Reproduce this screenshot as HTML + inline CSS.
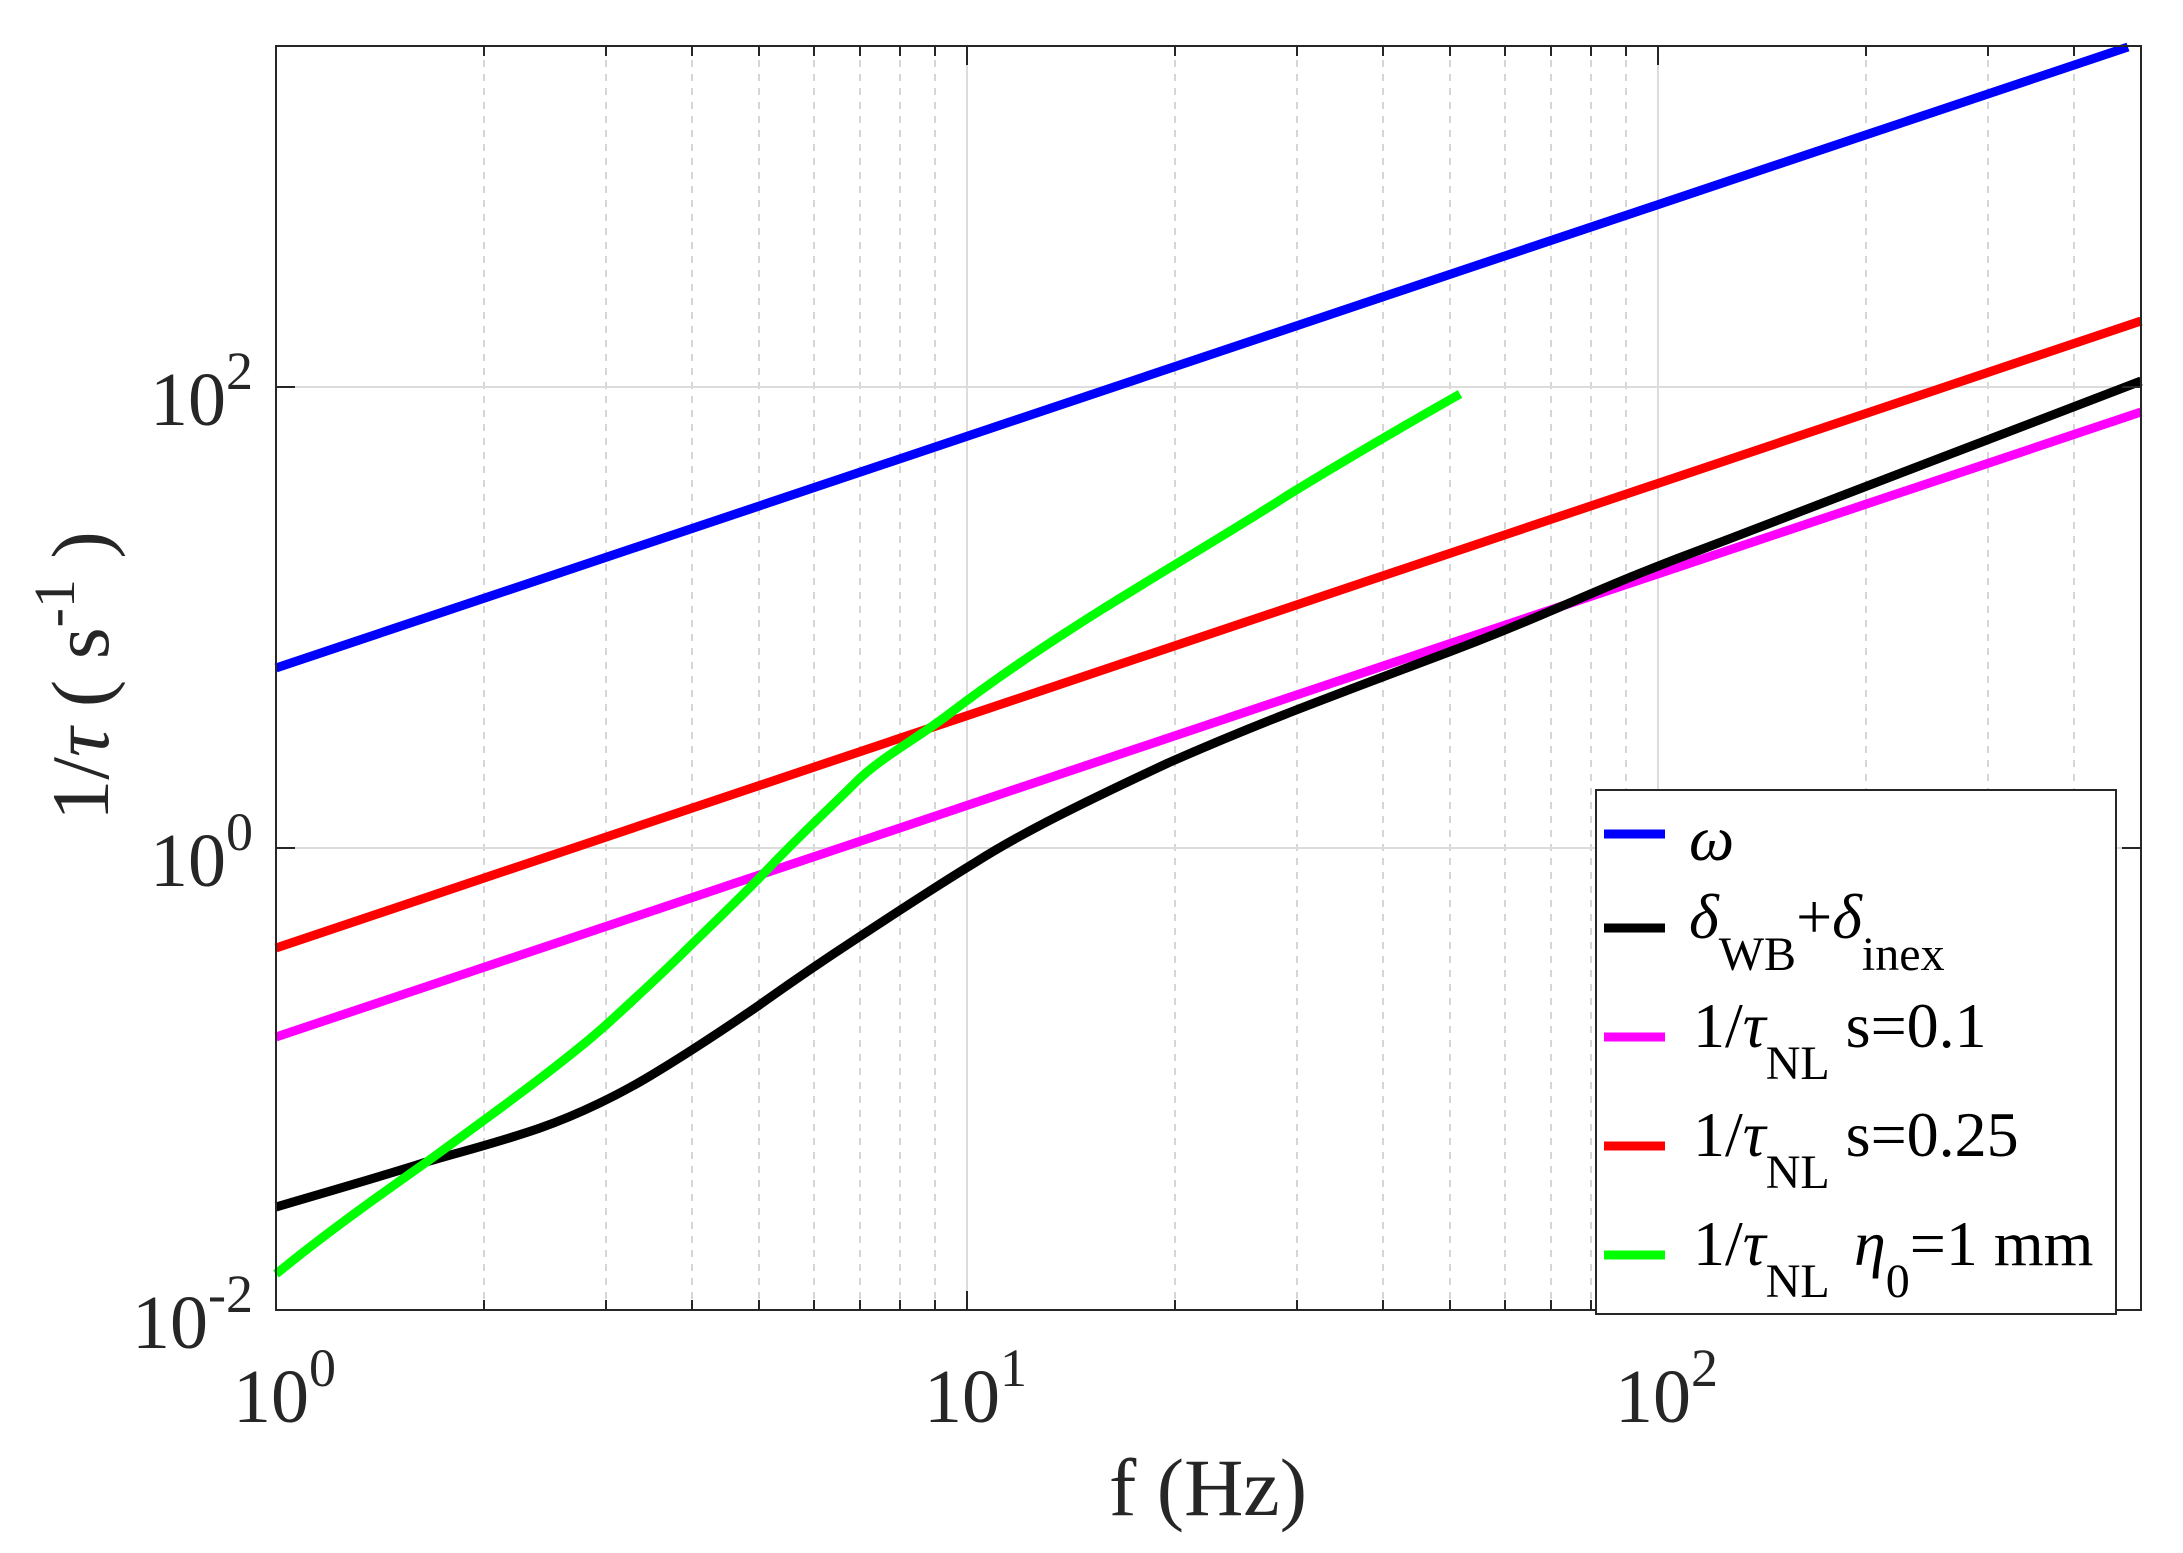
<!DOCTYPE html>
<html><head><meta charset="utf-8"><style>html,body{margin:0;padding:0;background:#fff}svg{display:block}</style></head>
<body>
<svg width="2183" height="1553" viewBox="0 0 2183 1553" xmlns="http://www.w3.org/2000/svg" font-family="Liberation Serif, serif" fill="#262626">
<rect x="0" y="0" width="2183" height="1553" fill="#fff"/>
<g stroke="#c8c8c8" stroke-width="1.5" stroke-dasharray="7,7">
<line x1="484" y1="46" x2="484" y2="1310"/><line x1="606" y1="46" x2="606" y2="1310"/><line x1="692" y1="46" x2="692" y2="1310"/><line x1="759" y1="46" x2="759" y2="1310"/><line x1="814" y1="46" x2="814" y2="1310"/><line x1="860" y1="46" x2="860" y2="1310"/><line x1="900" y1="46" x2="900" y2="1310"/><line x1="935" y1="46" x2="935" y2="1310"/>
<line x1="1175" y1="46" x2="1175" y2="1310"/><line x1="1297" y1="46" x2="1297" y2="1310"/><line x1="1383" y1="46" x2="1383" y2="1310"/><line x1="1450" y1="46" x2="1450" y2="1310"/><line x1="1505" y1="46" x2="1505" y2="1310"/><line x1="1551" y1="46" x2="1551" y2="1310"/><line x1="1591" y1="46" x2="1591" y2="1310"/><line x1="1626" y1="46" x2="1626" y2="1310"/>
<line x1="1866" y1="46" x2="1866" y2="1310"/><line x1="1988" y1="46" x2="1988" y2="1310"/><line x1="2074" y1="46" x2="2074" y2="1310"/>
</g>
<g stroke="#dcdcdc" stroke-width="2">
<line x1="967" y1="46" x2="967" y2="1310"/><line x1="1658" y1="46" x2="1658" y2="1310"/>
<line x1="276" y1="387" x2="2141" y2="387"/><line x1="276" y1="848" x2="2141" y2="848"/>
</g>
<g fill="none" stroke-width="9" stroke-linejoin="round">
<line x1="276" y1="668" x2="2128" y2="47" stroke="#0000ff"/>
<line x1="276" y1="948" x2="2141" y2="321" stroke="#ff0000"/>
<line x1="276" y1="1037" x2="2141" y2="412" stroke="#ff00ff"/>
<path stroke="#000" d="M276,1207 C330,1191 386,1175 423,1163 C460,1152 500,1142 540,1128 C580,1114 620,1094 650,1076 C690,1052 720,1032 758,1006 C800,976 830,956 856,939 C900,910 940,884 976,862 C1020,834 1080,804 1168,763 C1250,727 1300,708 1449,652 C1550,614 1600,587 1700,550 C1850,493 2000,434 2141,381"/>
<path stroke="#00ff00" d="M276,1274 C330,1230 380,1195 428,1161 C480,1123 560,1066 606,1025 C640,994 670,966 691,945 C720,917 745,893 767,870 C800,835 830,808 856,782 C880,758 915,740 949,714 C1000,675 1050,642 1101,610 C1180,561 1250,520 1288,495 C1350,457 1400,428 1460,394"/>
</g>
<rect x="276" y="46" width="1865" height="1264" fill="none" stroke="#262626" stroke-width="2"/>
<g stroke="#262626" stroke-width="2">
<line x1="967" y1="1310" x2="967" y2="1291"/><line x1="1658" y1="1310" x2="1658" y2="1291"/>
<line x1="967" y1="46" x2="967" y2="65"/><line x1="1658" y1="46" x2="1658" y2="65"/>
<line x1="276" y1="387" x2="295" y2="387"/><line x1="276" y1="848" x2="295" y2="848"/>
<line x1="2141" y1="387" x2="2122" y2="387"/><line x1="2141" y1="848" x2="2122" y2="848"/>
<line x1="484" y1="1310" x2="484" y2="1300"/><line x1="606" y1="1310" x2="606" y2="1300"/><line x1="692" y1="1310" x2="692" y2="1300"/><line x1="759" y1="1310" x2="759" y2="1300"/><line x1="814" y1="1310" x2="814" y2="1300"/><line x1="860" y1="1310" x2="860" y2="1300"/><line x1="900" y1="1310" x2="900" y2="1300"/><line x1="935" y1="1310" x2="935" y2="1300"/>
<line x1="1175" y1="1310" x2="1175" y2="1300"/><line x1="1297" y1="1310" x2="1297" y2="1300"/><line x1="1383" y1="1310" x2="1383" y2="1300"/><line x1="1450" y1="1310" x2="1450" y2="1300"/><line x1="1505" y1="1310" x2="1505" y2="1300"/><line x1="1551" y1="1310" x2="1551" y2="1300"/><line x1="1591" y1="1310" x2="1591" y2="1300"/><line x1="1626" y1="1310" x2="1626" y2="1300"/>
<line x1="1866" y1="1310" x2="1866" y2="1300"/><line x1="1988" y1="1310" x2="1988" y2="1300"/><line x1="2074" y1="1310" x2="2074" y2="1300"/>
<line x1="484" y1="46" x2="484" y2="56"/><line x1="606" y1="46" x2="606" y2="56"/><line x1="692" y1="46" x2="692" y2="56"/><line x1="759" y1="46" x2="759" y2="56"/><line x1="814" y1="46" x2="814" y2="56"/><line x1="860" y1="46" x2="860" y2="56"/><line x1="900" y1="46" x2="900" y2="56"/><line x1="935" y1="46" x2="935" y2="56"/>
<line x1="1175" y1="46" x2="1175" y2="56"/><line x1="1297" y1="46" x2="1297" y2="56"/><line x1="1383" y1="46" x2="1383" y2="56"/><line x1="1450" y1="46" x2="1450" y2="56"/><line x1="1505" y1="46" x2="1505" y2="56"/><line x1="1551" y1="46" x2="1551" y2="56"/><line x1="1591" y1="46" x2="1591" y2="56"/><line x1="1626" y1="46" x2="1626" y2="56"/>
<line x1="1866" y1="46" x2="1866" y2="56"/><line x1="1988" y1="46" x2="1988" y2="56"/><line x1="2074" y1="46" x2="2074" y2="56"/>
</g>
<g font-size="76">
<text x="253" y="1348" text-anchor="end">10<tspan font-size="54" dy="-36">-2</tspan></text>
<text x="253" y="886" text-anchor="end">10<tspan font-size="54" dy="-36">0</tspan></text>
<text x="253" y="425" text-anchor="end">10<tspan font-size="54" dy="-36">2</tspan></text>
<text x="233" y="1422">10<tspan font-size="54" dy="-36">0</tspan></text>
<text x="924" y="1422">10<tspan font-size="54" dy="-36">1</tspan></text>
<text x="1615" y="1422">10<tspan font-size="54" dy="-36">2</tspan></text>
</g>
<text x="1208" y="1515" font-size="82" text-anchor="middle">f (Hz)</text>
<text transform="translate(108,676) rotate(-90)" font-size="82" text-anchor="middle">1/<tspan font-style="italic">τ</tspan>  ( s<tspan font-size="58" dy="-34">-1</tspan><tspan dy="34"> )</tspan></text>
<rect x="1596" y="790" width="520" height="524" fill="#fff" stroke="#262626" stroke-width="2"/>
<g stroke-width="9">
<line x1="1604" y1="834" x2="1665" y2="834" stroke="#0000ff"/>
<line x1="1604" y1="928" x2="1665" y2="928" stroke="#000"/>
<line x1="1604" y1="1037" x2="1665" y2="1037" stroke="#ff00ff"/>
<line x1="1604" y1="1146" x2="1665" y2="1146" stroke="#ff0000"/>
<line x1="1604" y1="1255" x2="1665" y2="1255" stroke="#00ff00"/>
</g>
<g font-size="64" fill="#000">
<text x="1689" y="860" font-style="italic">ω</text>
<text x="1689" y="938"><tspan font-style="italic">δ</tspan><tspan font-size="48" dy="32">WB</tspan><tspan dy="-32">+</tspan><tspan font-style="italic">δ</tspan><tspan font-size="48" dy="32">inex</tspan></text>
<text x="1693" y="1047">1/<tspan font-style="italic">τ</tspan><tspan font-size="48" dy="32">NL</tspan><tspan dy="-32"> s=0.1</tspan></text>
<text x="1693" y="1156">1/<tspan font-style="italic">τ</tspan><tspan font-size="48" dy="32">NL</tspan><tspan dy="-32"> s=0.25</tspan></text>
<text x="1693" y="1265">1/<tspan font-style="italic">τ</tspan><tspan font-size="48" dy="32">NL</tspan><tspan x="1854" dy="-32" font-style="italic">η</tspan><tspan font-size="48" dy="32">0</tspan><tspan dy="-32">=1 mm</tspan></text>
</g>
</svg>
</body></html>
